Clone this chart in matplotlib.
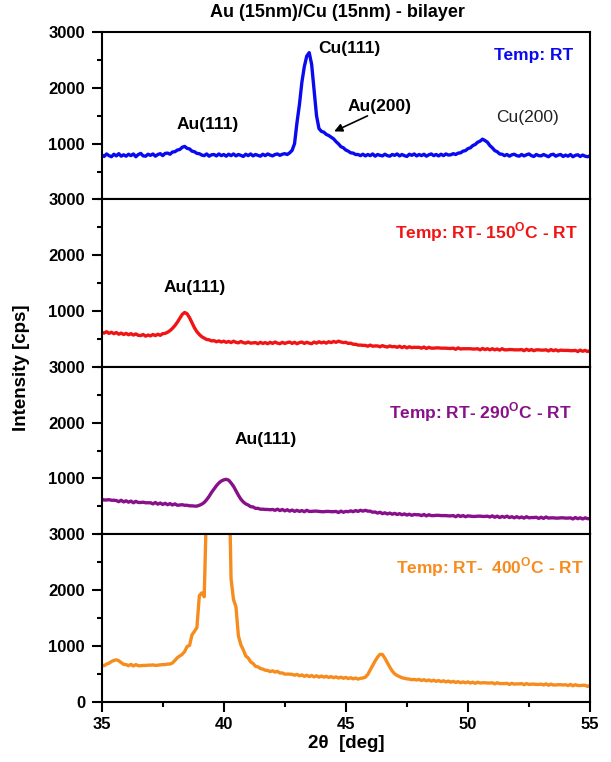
import numpy as np
import matplotlib
matplotlib.use("Agg")
import matplotlib.pyplot as plt
from matplotlib.ticker import MultipleLocator

plt.rcParams['font.family'] = ['Liberation Sans', 'DejaVu Sans']
plt.rcParams['font.weight'] = 'bold'
plt.rcParams['axes.labelweight'] = 'bold'
plt.rcParams['mathtext.fontset'] = 'custom'
plt.rcParams['mathtext.rm'] = 'Liberation Sans:bold'
plt.rcParams['mathtext.bf'] = 'Liberation Sans:bold'

# 2theta grid, 0.1 deg steps from 35 to 55
two_theta = np.linspace(35.0, 55.0, 201)

# intensities [cps] (one row = 1 deg)
int_rt = [
    800, 770, 815, 785, 765, 810, 780, 820, 775, 800,
    775, 810, 785, 815, 765, 805, 825, 780, 775, 810,
    790, 815, 775, 805, 820, 785, 825, 830, 810, 850,
    855, 885, 895, 935, 950, 915, 905, 865, 855, 825,
    820, 795, 785, 815, 775, 800, 805, 780, 815, 785,
    805, 775, 810, 785, 815, 780, 805, 790, 770, 810,
    785, 815, 780, 805, 790, 775, 810, 785, 815, 795,
    780, 805, 815, 790, 810, 820, 805, 835, 880, 1000,
    1380, 1700, 2100, 2380, 2570, 2630, 2420, 1950, 1500, 1270,
    1220, 1205, 1165, 1145, 1115, 1085, 1035, 995, 945, 925,
    885, 865, 835, 830, 805, 805, 785, 810, 780, 805,
    785, 815, 775, 805, 790, 780, 810, 785, 775, 805,
    790, 815, 780, 805, 785, 770, 810, 790, 815, 780,
    805, 785, 810, 775, 800, 815, 785, 805, 780, 810,
    785, 815, 795, 800, 820, 805, 830, 835, 865, 875,
    910, 925, 965, 985, 1025, 1045, 1080, 1055, 1025, 965,
    925, 875, 855, 815, 810, 785, 805, 775, 800, 810,
    785, 775, 805, 780, 800, 815, 785, 770, 805, 785,
    780, 805, 785, 765, 800, 810, 775, 795, 805, 770,
    795, 775, 805, 765, 790, 800, 770, 795, 775, 765,
    780,
]

int_150 = [
    620, 605, 630, 600, 620, 595, 615, 585, 605, 580,
    600, 575, 595, 570, 590, 565, 560, 580, 550, 570,
    555, 580, 560, 585, 565, 595, 600, 620, 650, 690,
    740, 800, 870, 940, 975, 950, 880, 790, 700, 630,
    580, 540, 515, 490, 485, 465, 470, 450, 465, 445,
    460, 440, 455, 435, 460, 440, 430, 455, 435, 425,
    445, 425, 430, 435, 415, 440, 420, 435, 415, 440,
    420, 445, 425, 415, 440, 420, 435, 445, 420, 440,
    415, 435, 445, 420, 440, 425, 415, 445, 425, 450,
    430, 445, 425, 450, 435, 455, 440, 460, 445, 435,
    440, 420, 425, 405, 405, 390, 390, 385, 385, 370,
    390, 370, 375, 375, 360, 380, 365, 355, 375, 360,
    365, 350, 370, 345, 365, 340, 360, 345, 350, 350,
    350, 335, 355, 330, 350, 335, 335, 340, 340, 335,
    335, 335, 330, 330, 335, 315, 340, 320, 325, 325,
    325, 325, 320, 320, 325, 305, 330, 310, 325, 305,
    325, 305, 320, 300, 325, 305, 305, 310, 310, 305,
    305, 305, 310, 290, 315, 295, 310, 290, 305, 305,
    300, 300, 305, 285, 310, 290, 305, 285, 300, 295,
    295, 295, 290, 290, 295, 275, 300, 280, 295, 275,
    290,
]

int_290 = [
    630, 615, 615, 620, 610, 610, 605, 585, 610, 580,
    600, 575, 595, 565, 590, 570, 570, 575, 565, 565,
    565, 545, 570, 540, 560, 535, 555, 530, 550, 525,
    545, 520, 525, 530, 520, 520, 510, 510, 505, 505,
    520, 540, 570, 620, 680, 750, 810, 870, 920, 955,
    975, 985, 970, 920, 860, 780, 700, 630, 580, 545,
    525, 495, 490, 465, 465, 450, 450, 445, 445, 440,
    445, 430, 450, 425, 445, 420, 440, 415, 435, 410,
    430, 410, 425, 405, 430, 410, 410, 415, 415, 410,
    405, 405, 410, 410, 405, 405, 410, 390, 415, 395,
    410, 405, 420, 405, 425, 410, 430, 415, 430, 415,
    415, 395, 400, 380, 395, 370, 385, 365, 380, 360,
    375, 355, 370, 350, 365, 345, 360, 340, 355, 350,
    350, 335, 355, 330, 350, 335, 335, 340, 340, 335,
    335, 335, 330, 330, 335, 315, 340, 320, 335, 315,
    330, 325, 320, 320, 325, 325, 320, 320, 325, 310,
    330, 305, 325, 300, 320, 305, 325, 300, 315, 295,
    315, 295, 310, 290, 315, 295, 300, 300, 305, 285,
    305, 285, 310, 290, 295, 295, 290, 290, 295, 295,
    290, 290, 295, 275, 300, 280, 295, 275, 295, 280,
    280,
]

int_400 = [
    660, 645, 675, 690, 720, 740, 750, 735, 700, 670,
    665, 645, 670, 640, 665, 645, 645, 650, 650, 655,
    655, 660, 650, 655, 660, 665, 665, 675, 675, 695,
    740, 790, 820, 850, 900, 990, 1010, 1200, 1260, 1330,
    1900, 1950, 1880, 3600, 6000, 8000, 9500, 9800, 9000, 7600,
    6200, 5000, 4400, 2200, 1830, 1700, 1180, 1020, 930, 820,
    785, 715, 685, 635, 625, 595, 585, 565, 560, 540,
    555, 530, 545, 515, 515, 495, 495, 495, 490, 475,
    490, 465, 480, 455, 475, 450, 470, 445, 465, 440,
    460, 440, 455, 435, 450, 430, 445, 425, 440, 420,
    435, 415, 430, 410, 425, 405, 420, 425, 440, 490,
    570, 650, 730, 800, 850, 845, 780, 700, 620, 550,
    500, 470, 450, 430, 420, 410, 405, 395, 400, 390,
    400, 380, 395, 375, 390, 370, 385, 365, 380, 360,
    375, 355, 370, 350, 365, 345, 360, 340, 355, 340,
    355, 335, 350, 330, 350, 335, 340, 340, 335, 335,
    340, 320, 340, 325, 325, 325, 330, 310, 330, 315,
    320, 320, 325, 305, 325, 310, 315, 315, 310, 310,
    315, 300, 320, 295, 315, 300, 300, 305, 305, 300,
    305, 290, 310, 285, 305, 290, 290, 295, 295, 275,
    290,
]

series = [int_rt, int_150, int_290, int_400]
colors = ['#0a0af0', '#f01414', '#88108a', '#f78c1e']
temp_labels = ['Temp: RT',
               r'Temp: RT- 150$^{\mathbf{O}}$C - RT',
               r'Temp: RT- 290$^{\mathbf{O}}$C - RT',
               r'Temp: RT-  400$^{\mathbf{O}}$C - RT']
# (x right edge, y baseline) of the temperature labels
temp_pos = [(54.30, 2494), (54.52, 2305), (54.25, 2077), (54.73, 2298)]

fig, axes = plt.subplots(4, 1, sharex=True, figsize=(6.11, 7.62), dpi=100,
                         gridspec_kw={'hspace': 0})
fig.subplots_adjust(left=0.1664, right=0.9656, top=0.958, bottom=0.0791)

for i, ax in enumerate(axes):
    ax.plot(two_theta, series[i], color=colors[i], lw=2.4)
    ax.set_xlim(35, 55)
    ax.set_ylim(0, 3000)
    if i < 3:
        ax.set_yticks([1000, 2000, 3000])
    else:
        ax.set_yticks([0, 1000, 2000, 3000])
    ax.yaxis.set_minor_locator(MultipleLocator(500))
    ax.tick_params(axis='y', which='major', direction='out', length=7, width=1.5,
                   labelsize=12, pad=5)
    ax.tick_params(axis='y', which='minor', direction='out', length=3.5, width=1.5)
    ax.tick_params(right=False, top=False)
    for s in ax.spines.values():
        s.set_linewidth(1.5)
    ax.text(temp_pos[i][0], temp_pos[i][1], temp_labels[i], color=colors[i],
            ha='right', va='baseline', fontsize=12.5, fontweight='bold')
    if i < 3:
        ax.tick_params(axis='x', which='both', length=0, labelbottom=False)

axb = axes[3]
axb.xaxis.set_major_locator(MultipleLocator(5))
axb.xaxis.set_minor_locator(MultipleLocator(2.5))
axb.tick_params(axis='x', which='major', direction='out', length=7, width=1.5,
                labelsize=12, pad=4)
axb.tick_params(axis='x', which='minor', direction='out', length=3.5, width=1.5)

# peak labels
ax1 = axes[0]
ax1.text(45.15, 2615, 'Cu(111)', ha='center', va='baseline', fontsize=12.5)
ax1.text(39.33, 1260, 'Au(111)', ha='center', va='baseline', fontsize=12.5)
ax1.text(46.38, 1590, 'Au(200)', ha='center', va='baseline', fontsize=12.5)
ax1.text(52.44, 1379, 'Cu(200)', ha='center', va='baseline', fontsize=12.5,
         fontweight='normal', color='#222222')
ax1.annotate('', xy=(44.42, 1198), xytext=(45.99, 1518),
             arrowprops=dict(arrowstyle='-|>', color='black', lw=1.2,
                             mutation_scale=12))
axes[1].text(38.79, 1347, 'Au(111)', ha='center', va='baseline', fontsize=12.5)
axes[2].text(41.71, 1620, 'Au(111)', ha='center', va='baseline', fontsize=12.5)

fig.text(0.553, 0.984, 'Au (15nm)/Cu (15nm) - bilayer', ha='center', va='center',
         fontsize=13)
fig.text(0.036, 0.518, 'Intensity [cps]', rotation=90, ha='center', va='center',
         fontsize=13.5)
axb.set_xlabel('2θ  [deg]', fontsize=13.5, fontweight='bold', labelpad=2)

fig.savefig('out.png', dpi=100)
